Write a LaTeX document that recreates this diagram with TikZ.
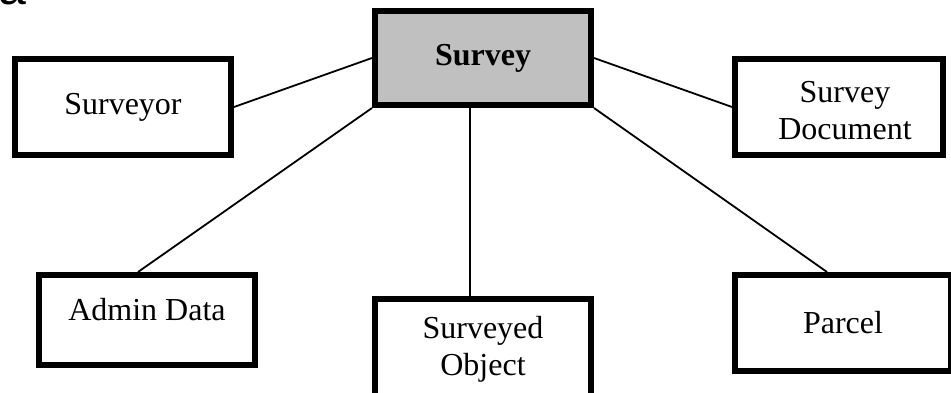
\documentclass[tikz,border=0pt]{standalone}
\usepackage{fontspec}
\setmainfont{Liberation Serif}
\newfontfamily\frag{Liberation Sans}
\definecolor{boxgrey}{RGB}{192,192,192}
\begin{document}
\begin{tikzpicture}[x=1pt,y=-1pt,
  ebox/.style={draw=black, line width=6pt, fill=white, outer sep=3pt, inner sep=0pt,
    minimum width=216pt, minimum height=96pt, align=center,
    font=\fontsize{32}{37}\selectfont},
  conn/.style={draw=black, line width=1.8pt},
  lbl/.style={inner sep=0pt, align=center, font=\fontsize{32}{37}\selectfont}]
\useasboundingbox (0,0) rectangle (951,393);
\begin{scope}
\clip (0,0) rectangle (951,393);
\node[anchor=base west, inner sep=0pt, font=\frag\fontsize{50}{50}\selectfont] (frag) at (-2,5) {a};
% boxes
\node[ebox, fill=boxgrey, minimum height=94pt, font=\bfseries\fontsize{32}{37}\selectfont] (survey) at (483,58) {Survey};
\node[ebox] (surveyor) at (123,107) {Surveyor};
\node[ebox, minimum width=208pt] (doc) at (839,107) {};
\node[lbl] (doctext) at (845,111) {Survey\\Document};
\node[ebox, minimum height=90pt] (admin) at (147,320) {};
\node[lbl] (admintext) at (147,310) {Admin Data};
\node[ebox, minimum height=97pt] (obj) at (483,347.5) {};
\node[lbl] (objtext) at (483,349) {Surveyed\\Object};
\node[ebox] (parcel) at (843,323) {Parcel};
% connectors
\draw[conn] (surveyor.east) -- (survey.west);
\draw[conn] (survey.south west) -- ([xshift=-9pt]admin.north);
\draw[conn] ([xshift=-13pt]survey.south) -- ([xshift=-13pt]obj.north);
\draw[conn] (survey.east) -- (doc.west);
\draw[conn] (survey.south east) -- ([xshift=-16pt]parcel.north);
\end{scope}
\end{tikzpicture}
\end{document}
